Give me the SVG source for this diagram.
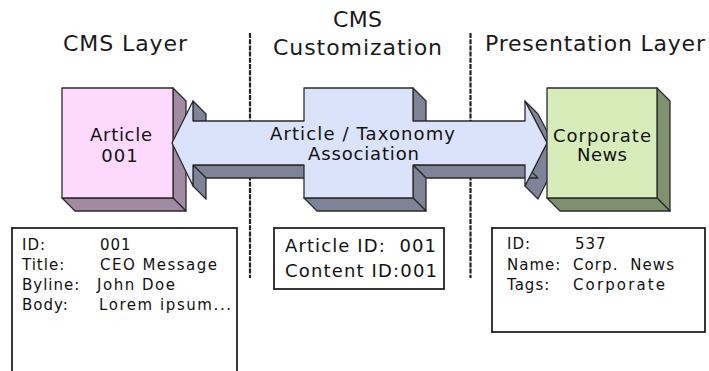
<svg xmlns="http://www.w3.org/2000/svg" width="709" height="371" viewBox="0 0 709 371">
<style>
  .hdr { font-family: "DejaVu Sans", Verdana, sans-serif; font-size: 22px; fill: #1a1a1a; }
  .lbl { font-family: "DejaVu Sans", Verdana, sans-serif; font-size: 18px; fill: #111; letter-spacing: 1px; }
  .txt { font-family: "DejaVu Sans", Verdana, sans-serif; font-size: 15px; fill: #111; letter-spacing: 1px; }
  .ctr { font-family: "DejaVu Sans", Verdana, sans-serif; font-size: 18px; fill: #111; letter-spacing: 1px; white-space: pre; }
  .sep { stroke: #222; stroke-width: 2.2; stroke-dasharray: 5 1.2; fill: none; }
  .edge { stroke: #2b2b2b; stroke-width: 1.3; stroke-linejoin: round; }
  .pinkF { fill: #fdd9fd; }
  .pinkS { fill: #a28aa2; }
  .blueF { fill: #dbe3fb; }
  .blueS { fill: #7f8398; }
  .greenF { fill: #d7ecb9; }
  .greenS { fill: #80916f; }
  .box { fill: #ffffff; stroke: #222; stroke-width: 1.8; }
</style>

<g id="separators">
  <line class="sep" x1="250" y1="33" x2="250" y2="278"/>
  <line class="sep" x1="470.5" y1="33" x2="470.5" y2="278"/>
</g>

<g id="headers">
  <text class="hdr" x="63" y="51" textLength="124">CMS Layer</text>
  <text class="hdr" x="333" y="27" textLength="49">CMS</text>
  <text class="hdr" x="273" y="55" textLength="169">Customization</text>
  <text class="hdr" x="485" y="51" textLength="220">Presentation Layer</text>
</g>

<g id="node-article">
  <polygon class="pinkS edge" points="173,88 186,101 186,211 173,198"/>
  <polygon class="pinkS edge" points="62,198 173,198 186,211 75,211"/>
  <rect class="pinkF edge" x="62" y="88" width="111" height="110"/>
  <text class="lbl" x="90" y="141" textLength="63">Article</text>
  <text class="lbl" x="120" y="162" text-anchor="middle">001</text>
</g>

<g id="connectors">
  <g id="association-arrow">
    <polygon class="blueS edge" points="193,101 193,121 206,134 206,114"/>
    <polygon class="blueS edge" points="413,88 413,121 426,134 426,101"/>
    <polygon class="blueS edge" points="525,101 547,143 560,156 538,114"/>
    <polygon class="blueS edge" points="547,143 525,186 538,199 560,156"/>
    <polygon class="blueS edge" points="525,165 413,165 426,178 538,178"/>
    <polygon class="blueS edge" points="413,165 413,198 426,211 426,178"/>
    <polygon class="blueS edge" points="413,198 304,198 317,211 426,211"/>
    <polygon class="blueS edge" points="304,165 193,165 206,178 317,178"/>
    <polygon class="blueS edge" points="193,165 193,186 206,199 206,178"/>
    <polygon class="blueF edge" points="172,143 193,101 193,121 304,121 304,88 413,88 413,121 525,121 525,101 547,143 525,186 525,165 413,165 413,198 304,198 304,165 193,165 193,186"/>
    <text class="lbl" x="270" y="140" textLength="186">Article / Taxonomy</text>
    <text class="lbl" x="308" y="160" textLength="112">Association</text>
  </g>
</g>

<g id="node-corporate">
  <polygon class="greenS edge" points="657,88 670,101 670,211 657,198"/>
  <polygon class="greenS edge" points="547,198 657,198 670,211 560,211"/>
  <rect class="greenF edge" x="547" y="88" width="110" height="110"/>
  <text class="lbl" x="553" y="142" textLength="99">Corporate</text>
  <text class="lbl" x="577" y="161" textLength="51">News</text>
</g>

<g id="box-article">
  <rect class="box" x="12" y="228" width="225" height="160"/>
  <text class="txt" x="22" y="250">ID:</text>
  <text class="txt" x="100" y="250">001</text>
  <text class="txt" x="22" y="270">Title:</text>
  <text class="txt" x="100" y="270" textLength="118">CEO Message</text>
  <text class="txt" x="22" y="290">Byline:</text>
  <text class="txt" x="97" y="290" textLength="79">John Doe</text>
  <text class="txt" x="22" y="310">Body:</text>
  <text class="txt" x="99" y="310" textLength="133">Lorem ipsum...</text>
</g>

<g id="box-association">
  <rect class="box" x="274" y="228" width="170" height="61"/>
  <text class="ctr" x="285" y="252" xml:space="preserve" textLength="152">Article ID:  001</text>
  <text class="ctr" x="285" y="277" textLength="153">Content ID:001</text>
</g>

<g id="box-corporate">
  <rect class="box" x="492" y="228" width="213" height="104"/>
  <text class="txt" x="507" y="249">ID:</text>
  <text class="txt" x="575" y="249">537</text>
  <text class="txt" x="507" y="270">Name:</text>
  <text class="txt" x="573" y="270" xml:space="preserve" textLength="102">Corp.  News</text>
  <text class="txt" x="507" y="290">Tags:</text>
  <text class="txt" x="573" y="290" textLength="93">Corporate</text>
</g>
</svg>
